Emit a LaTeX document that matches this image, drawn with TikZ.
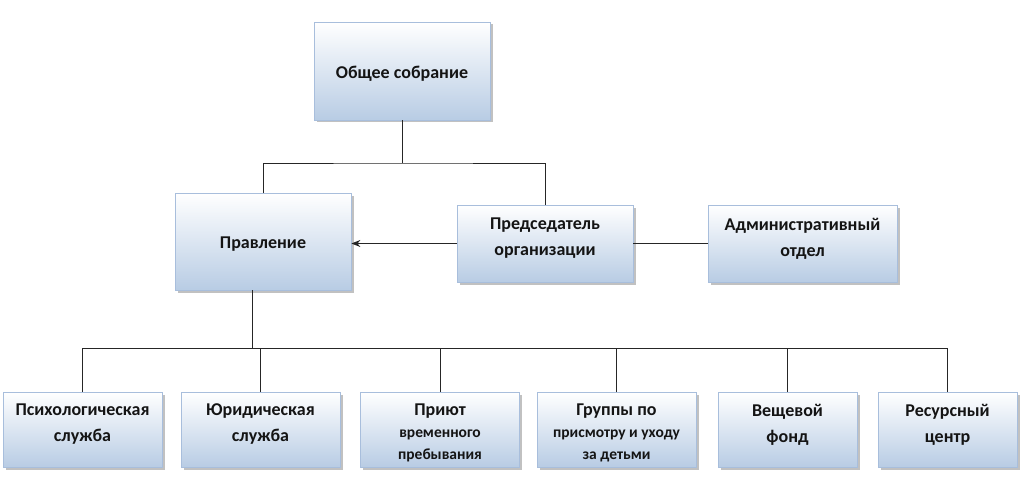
\documentclass[tikz,border=0pt]{standalone}
\usepackage{fontspec}
\setmainfont{Carlito}
\usetikzlibrary{shadows,arrows.meta}
\definecolor{boxbot}{RGB}{184,204,228}
\definecolor{boxline}{RGB}{168,190,220}
\definecolor{txtcol}{RGB}{20,20,20}
\tikzset{
  box/.style={draw=boxline, line width=0.8pt, top color=white, bottom color=boxbot,
    inner sep=0pt,
    drop shadow={shadow xshift=2.5pt, shadow yshift=-2.5pt, opacity=0.35, fill=black!70}},
  txt/.style={align=center, text=txtcol, font=\bfseries\fontsize{18}{26}\selectfont},
  sm/.style={align=center, text=txtcol, font=\bfseries\fontsize{15.5}{22}\selectfont},
  conn/.style={draw=black!85, line width=0.9pt}
}
\newcommand{\bigline}[1]{{\bfseries\fontsize{18}{23}\selectfont #1}}
\begin{document}
\begin{tikzpicture}[x=1pt,y=-1pt]
\useasboundingbox (0,0) rectangle (1024,497);
% boxes
\node[box, minimum width=176pt, minimum height=98pt] (ob) at (402,71) {};
\node[box, minimum width=176pt, minimum height=97pt] (prav) at (263,241.5) {};
\node[box, minimum width=176pt, minimum height=77pt] (pred) at (545,243.5) {};
\node[box, minimum width=189pt, minimum height=77pt] (adm) at (802.5,243.5) {};
\node[box, minimum width=159pt, minimum height=75pt] (c1) at (82.5,429.5) {};
\node[box, minimum width=159pt, minimum height=75pt] (c2) at (260.5,429.5) {};
\node[box, minimum width=159pt, minimum height=75pt] (c3) at (440,429.5) {};
\node[box, minimum width=159pt, minimum height=75pt] (c4) at (616.5,429.5) {};
\node[box, minimum width=139pt, minimum height=75pt] (c5) at (787.5,429.5) {};
\node[box, minimum width=139pt, minimum height=75pt] (c6) at (947.5,429.5) {};
% texts
\node[txt] (obT) at ([yshift=-2.5pt]ob.center) {Общее собрание};
\node[txt] (pravT) at ([yshift=-2.5pt]prav.center) {Правление};
\node[txt] (predT) at ([yshift=5pt]pred.center) {Председатель\\организации};
\node[txt] (admT) at ([yshift=5pt]adm.center) {Административный\\отдел};
\node[txt] (c1T) at ([yshift=5pt]c1.center) {Психологическая\\служба};
\node[txt] (c2T) at ([yshift=5pt]c2.center) {Юридическая\\служба};
\node[sm] (c3T) at ([yshift=-3.5pt]c3.center) {\bigline{Приют}\\временного\\пребывания};
\node[sm] (c4T) at ([yshift=-3.5pt]c4.center) {\bigline{Группы по}\\присмотру и уходу\\за детьми};
\node[txt] (c5T) at ([yshift=5pt]c5.center) {Вещевой\\фонд};
\node[txt] (c6T) at ([yshift=5pt]c6.center) {Ресурсный\\центр};
% connectors
\coordinate (top) at (402,163);
\coordinate (bus) at (252,348);
\draw[conn] (ob.south) -- (top);
\draw[conn] (prav.north) |- (top) -| (pred.north);
\draw[conn, -{Stealth[length=9pt,width=7pt]}] (pred.west) -- (pred.west -| prav.east);
\draw[conn] (pred.east) -- (adm.west);
\draw[conn] ([xshift=-11pt]prav.south) -- (bus);
\draw[conn] (c1.north) |- (c6.north |- bus) -- (c6.north);
\foreach \n in {c2,c3,c4,c5} \draw[conn] (\n.north) -- (\n.north |- bus);
\end{tikzpicture}
\end{document}
